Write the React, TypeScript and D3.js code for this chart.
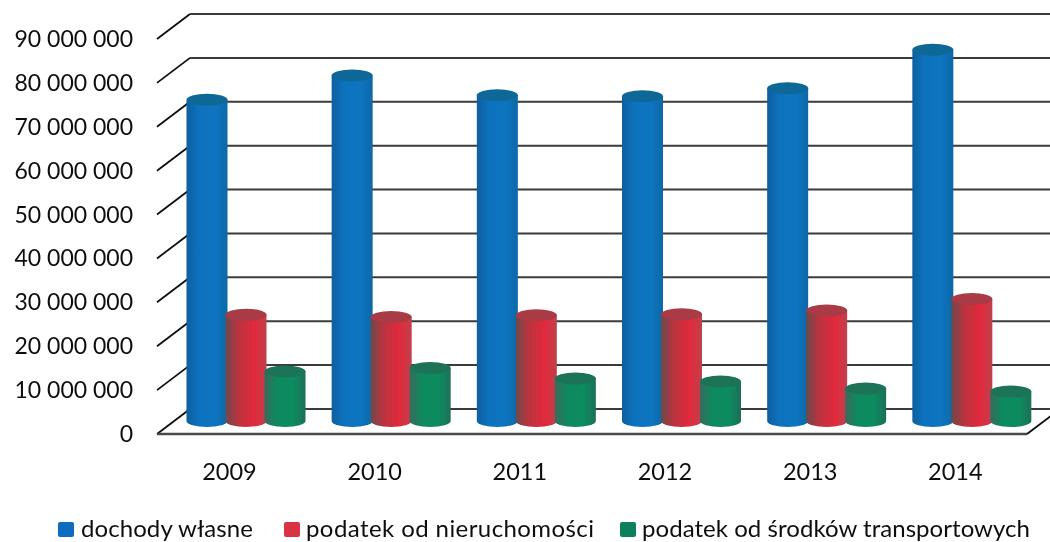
import React from "react";
import * as d3 from "d3";

const years = ["2009", "2010", "2011", "2012", "2013", "2014"];
const seriesNames = ["dochody własne", "podatek od nieruchomości", "podatek od środków transportowych"];
const dochody = [73.2, 78.7, 74.2, 74.0, 75.8, 84.6];
const nieruchomosci = [24.2, 23.7, 24.1, 24.3, 25.2, 27.8];
const transport = [11.3, 12.1, 9.7, 9.0, 7.4, 6.7];
const yTicks = [0, 10, 20, 30, 40, 50, 60, 70, 80, 90];
const tickLabels = ["0", "10 000 000", "20 000 000", "30 000 000", "40 000 000", "50 000 000", "60 000 000", "70 000 000", "80 000 000", "90 000 000"];
const fills = [
  { id: "g0", stops: ["#0b5f9f", "#0a72bd", "#0a75c0", "#0c68a8"], top: "#0f6798", legend: "#0f6cbd" },
  { id: "g1", stops: ["#6a4a4a", "#b8343f", "#e2293c", "#c0404c"], top: "#a83a45", legend: "#d93345" },
  { id: "g2", stops: ["#3a6a5c", "#0d8a5e", "#0c8c60", "#1d6f58"], top: "#1a7358", legend: "#0f7f5b" },
];
const seriesValues = [dochody, nieruchomosci, transport];
const legendSwatchX = [58, 284, 620];
const legendTextX = [81, 306, 642];
const legendTextWidth = [172, 288, 388];

const W = 1050, H = 542;
const y = d3.scaleLinear().domain([0, 90]).range([434, 39]);
const depthX = 33, depthY = -25;
const xGroup = d3.scaleBand().domain(years).range([173.5, 1044.5]);
const xBar = d3.scaleBand().domain(["0", "1", "2"]).range([14, 131]);
const baseLift = 13;
const FONT = "Lato, Carlito, sans-serif";

export default function App() {
  const rx = xBar.bandwidth() / 2 + 1;
  const ry = 6;
  return (
    <svg width={W} height={H} style={{ position: "absolute", left: 0, top: 0, background: "#fff" }}>
      <defs>
        {fills.map((f) => (
          <linearGradient key={f.id} id={f.id} x1="0" x2="1" y1="0" y2="0">
            {f.stops.map((c, i) => (
              <stop key={i} offset={[0, 0.3, 0.7, 1][i]} stopColor={c} />
            ))}
          </linearGradient>
        ))}
        <filter id="soft"><feGaussianBlur stdDeviation="0.6" /></filter>
        <filter id="softText"><feGaussianBlur stdDeviation="0.25" /></filter>
      </defs>
      <g filter="url(#soft)">
        {yTicks.map((t) => (
          <g key={t}>
            <path d={`M157 ${y(t)}L${157 + depthX} ${y(t) + depthY}`} stroke="#111" strokeWidth={1.8} fill="none" />
            <line x1={157 + depthX} x2={1060} y1={y(t) + depthY} y2={y(t) + depthY} stroke="#3a3a3a" strokeWidth={2} />
          </g>
        ))}
        <line x1={157} x2={1027} y1={y(0)} y2={y(0)} stroke="#4a4a4a" strokeWidth={2.4} />
        <line x1={1027} x2={1060} y1={y(0)} y2={y(0) + depthY} stroke="#111" strokeWidth={1.8} />
      </g>
      <g filter="url(#soft)">
        {years.map((yr, gi) =>
          seriesValues.map((vals, si) => {
            const cx = xGroup(yr)! + xBar(String(si))! + xBar.bandwidth() / 2;
            const bottom = y(0) - baseLift;
            const top = bottom - (y(0) - y(vals[gi]));
            const f = fills[si];
            return (
              <g key={yr + si}>
                <path
                  d={`M${cx - rx} ${top}V${bottom}A${rx} ${ry} 0 0 0 ${cx + rx} ${bottom}V${top}Z`}
                  fill={`url(#${f.id})`}
                />
                <ellipse cx={cx} cy={top} rx={rx} ry={ry} fill={f.top} />
              </g>
            );
          })
        )}
      </g>
      <g fontFamily={FONT} fontSize={23} fill="#111" filter="url(#softText)">
        {yTicks.map((t, i) => (
          <text key={t} x={133} y={y(t) + 8} textAnchor="end">{tickLabels[i]}</text>
        ))}
        {years.map((yr) => (
          <text key={yr} x={xGroup(yr)! + 56} y={480} textAnchor="middle" fontSize={23.5}>{yr}</text>
        ))}
        {seriesNames.map((name, i) => (
          <g key={name}>
            <rect x={legendSwatchX[i]} y={522} width={16} height={15} rx={2} fill={fills[i].legend} />
            <text x={legendTextX[i]} y={537} fontSize={24} textLength={legendTextWidth[i]} lengthAdjust="spacing">{name}</text>
          </g>
        ))}
      </g>
    </svg>
  );
}
